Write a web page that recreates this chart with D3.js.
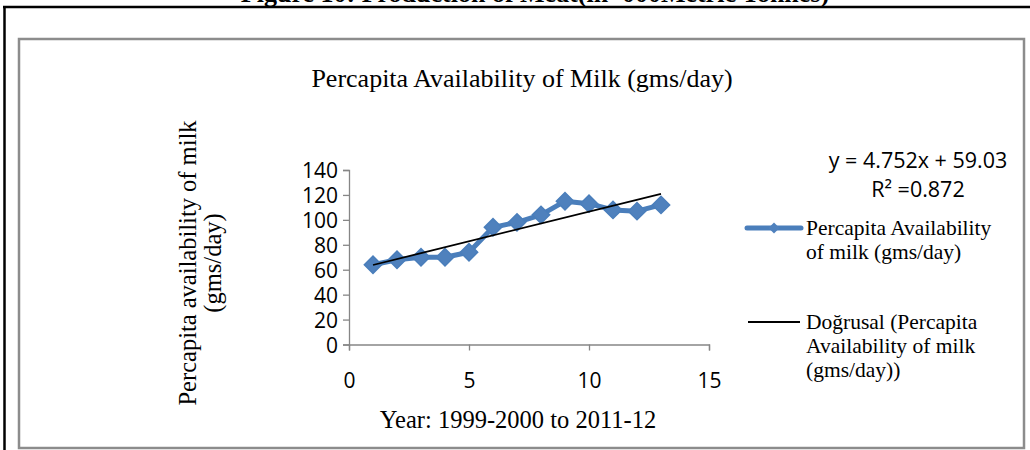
<!DOCTYPE html>
<html>
<head>
<meta charset="utf-8">
<script src="https://cdn.jsdelivr.net/npm/d3@7"></script>
<style>
  body { margin: 0; background: #fff; }
  svg { display: block; }
</style>
</head>
<body>
<div id="chart-area"></div>
<script>
// data
const years = [1, 2, 3, 4, 5, 6, 7, 8, 9, 10, 11, 12, 13];
const milk = [64, 68, 70, 70, 74, 94, 98, 104, 115, 113, 108, 107, 112];
const yTicks = [0, 20, 40, 60, 80, 100, 120, 140];
const xTicks = [0, 5, 10, 15];
const trendSlope = 4.752, trendIntercept = 59.03;

const W = 1030, H = 450;
const plotLeft = 349, plotRight = 709, plotTop = 170, plotBottom = 344.5;

const svg = d3.select("#chart-area").append("svg")
    .attr("width", W)
    .attr("height", H);

const serif = "Liberation Serif, Times New Roman, serif";
const sans = "Open Sans, Liberation Sans, sans-serif";

// page frame (cut off figure caption + black box)
svg.append("text")
    .attr("x", 535).attr("y", 2)
    .attr("text-anchor", "middle")
    .attr("font-family", serif)
    .attr("font-weight", "bold")
    .attr("font-size", "26px")
    .text("Figure 10: Production of Meat(in '000Metric Tonnes)");
svg.append("line")
    .attr("x1", 3).attr("x2", W).attr("y1", 7).attr("y2", 7)
    .attr("stroke", "#000").attr("stroke-width", 2.5);
svg.append("line")
    .attr("x1", 4.5).attr("x2", 4.5).attr("y1", 6).attr("y2", H)
    .attr("stroke", "#000").attr("stroke-width", 2.5);

// chart area border
svg.append("rect")
    .attr("x", 19).attr("y", 39)
    .attr("width", 1005).attr("height", 409)
    .attr("fill", "#fff")
    .attr("stroke", "#8c8c8c")
    .attr("stroke-width", 2.5);

// title
svg.append("text")
    .attr("x", 522).attr("y", 87)
    .attr("text-anchor", "middle")
    .attr("font-family", serif)
    .attr("font-size", "26px")
    .text("Percapita Availability of Milk (gms/day)");

// scales
const x = d3.scaleLinear().domain([0, 15]).range([plotLeft, plotRight]);
const y = d3.scaleLinear().domain([0, 140]).range([plotBottom, plotTop]);

// y axis
const yAxis = svg.append("g")
    .attr("transform", `translate(${plotLeft},0)`)
    .call(d3.axisLeft(y).tickValues(yTicks).tickSize(6).tickPadding(5));
yAxis.select(".domain").attr("stroke", "#868686").attr("stroke-width", 1.3);
yAxis.selectAll(".tick line").attr("stroke", "#868686").attr("stroke-width", 1.3);
yAxis.selectAll("text")
    .attr("font-family", sans)
    .attr("font-size", "21px")
    .attr("fill", "#000")
    .attr("dy", "0.36em");

// x axis
const xAxis = svg.append("g")
    .attr("transform", `translate(0,${plotBottom})`)
    .call(d3.axisBottom(x).tickValues(xTicks).tickSize(6).tickPadding(23));
xAxis.select(".domain").attr("stroke", "#868686").attr("stroke-width", 1.3);
xAxis.selectAll(".tick line").attr("stroke", "#868686").attr("stroke-width", 1.3);
xAxis.selectAll("text")
    .attr("font-family", sans)
    .attr("font-size", "21px")
    .attr("fill", "#000");

// axis titles
svg.append("text")
    .attr("transform", "translate(196,263) rotate(-90)")
    .attr("text-anchor", "middle")
    .attr("font-family", serif)
    .attr("font-size", "24.5px")
    .text("Percapita availability of milk");
svg.append("text")
    .attr("transform", "translate(221,263) rotate(-90)")
    .attr("text-anchor", "middle")
    .attr("font-family", serif)
    .attr("font-size", "24.5px")
    .text("(gms/day)");
svg.append("text")
    .attr("x", 518).attr("y", 428)
    .attr("text-anchor", "middle")
    .attr("font-family", serif)
    .attr("font-size", "24.5px")
    .text("Year: 1999-2000 to 2011-12");

// series line + diamonds (rotated squares, like Excel markers)
const diamond = d3.symbol().type(d3.symbolSquare);
const pts = years.map((yr, i) => ({ x: yr, y: milk[i] }));

svg.append("path")
    .datum(pts)
    .attr("fill", "none")
    .attr("stroke", "#4a7ebb")
    .attr("stroke-width", 5)
    .attr("stroke-linejoin", "round")
    .attr("d", d3.line().x(d => x(d.x)).y(d => y(d.y)));

svg.append("g").selectAll("path")
    .data(pts)
    .enter().append("path")
    .attr("transform", d => `translate(${x(d.x)},${y(d.y)}) rotate(45)`)
    .attr("d", diamond.size(150))
    .attr("fill", "#4f81bd")
    .attr("stroke", "#4a7ebb")
    .attr("stroke-width", 1.5);

// linear trendline
const first = years[0], last = years[years.length - 1];
svg.append("line")
    .attr("x1", x(first)).attr("y1", y(trendSlope * first + trendIntercept))
    .attr("x2", x(last)).attr("y2", y(trendSlope * last + trendIntercept))
    .attr("stroke", "#000")
    .attr("stroke-width", 1.8);

// equation
svg.append("text")
    .attr("x", 918).attr("y", 168)
    .attr("text-anchor", "middle")
    .attr("font-family", sans)
    .attr("font-size", "21.5px")
    .text("y = 4.752x + 59.03");
svg.append("text")
    .attr("x", 918).attr("y", 197)
    .attr("text-anchor", "middle")
    .attr("font-family", sans)
    .attr("font-size", "21.5px")
    .text("R² =0.872");

// legend
svg.append("line")
    .attr("x1", 747).attr("x2", 801).attr("y1", 228).attr("y2", 228)
    .attr("stroke", "#4a7ebb").attr("stroke-width", 5)
    .attr("stroke-linecap", "round");
svg.append("path")
    .attr("transform", "translate(774,228) rotate(45)")
    .attr("d", diamond.size(60))
    .attr("fill", "#4f81bd");
const leg1 = svg.append("text")
    .attr("font-family", serif)
    .attr("font-size", "21.5px");
leg1.append("tspan").attr("x", 806).attr("y", 235).text("Percapita Availability");
leg1.append("tspan").attr("x", 806).attr("y", 259).text("of milk (gms/day)");

svg.append("line")
    .attr("x1", 748).attr("x2", 800).attr("y1", 322).attr("y2", 322)
    .attr("stroke", "#000").attr("stroke-width", 1.8);
const leg2 = svg.append("text")
    .attr("font-family", serif)
    .attr("font-size", "21.5px");
leg2.append("tspan").attr("x", 806).attr("y", 329).text("Doğrusal (Percapita");
leg2.append("tspan").attr("x", 806).attr("y", 353).text("Availability of milk");
leg2.append("tspan").attr("x", 806).attr("y", 377).text("(gms/day))");
</script>
</body>
</html>
